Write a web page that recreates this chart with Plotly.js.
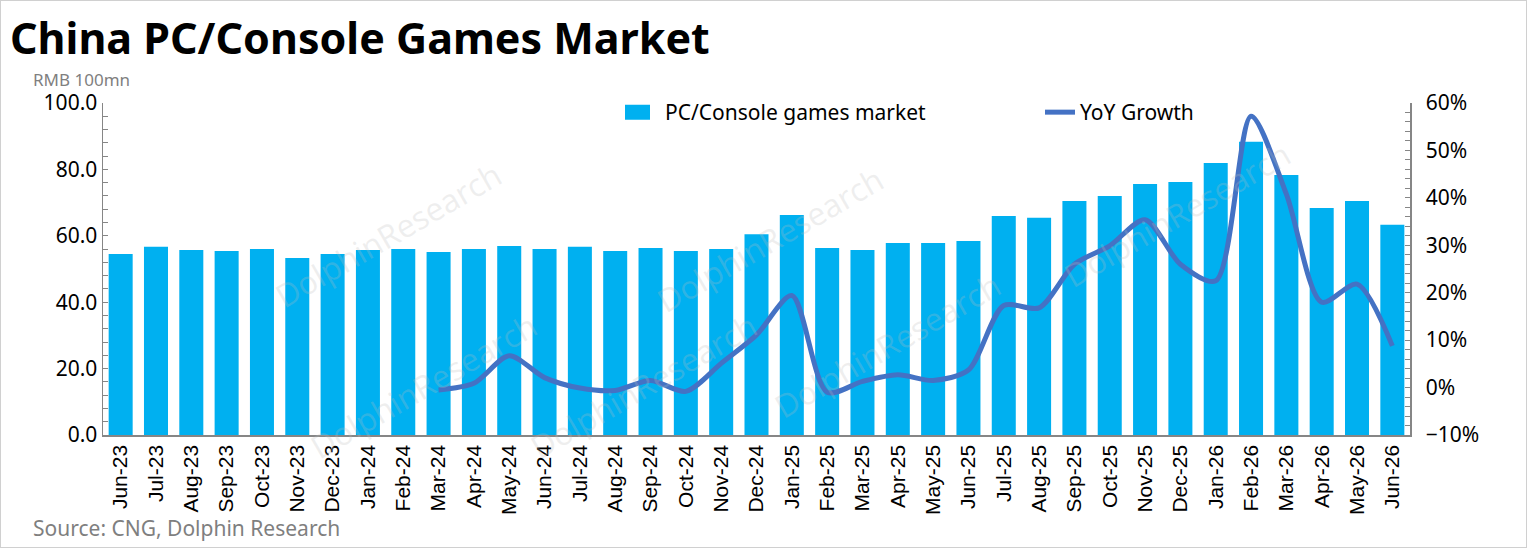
<!DOCTYPE html>
<html>
<head>
<meta charset="utf-8">
<script src="https://cdn.plot.ly/plotly-3.0.1.min.js"></script>
<style>
html,body{margin:0;padding:0;background:#fff;}
#chart{width:1527px;height:548px;box-sizing:border-box;border:1px solid #d0d0d0;}
</style>
</head>
<body>
<div id="chart"></div>
<script>
const months = ["Jun-23","Jul-23","Aug-23","Sep-23","Oct-23","Nov-23","Dec-23","Jan-24","Feb-24","Mar-24","Apr-24","May-24","Jun-24","Jul-24","Aug-24","Sep-24","Oct-24","Nov-24","Dec-24","Jan-25","Feb-25","Mar-25","Apr-25","May-25","Jun-25","Jul-25","Aug-25","Sep-25","Oct-25","Nov-25","Dec-25","Jan-26","Feb-26","Mar-26","Apr-26","May-26","Jun-26"];
const marketValues = [54.5,56.7,55.7,55.4,56.0,53.3,54.5,55.7,56.0,55.1,56.0,56.9,56.0,56.7,55.4,56.3,55.4,56.0,60.5,66.3,56.3,55.7,57.8,57.8,58.4,66.0,65.4,70.5,72.0,75.6,76.2,81.9,88.3,78.3,68.4,70.5,63.3];
const yoyGrowth = [null,null,null,null,null,null,null,null,null,-0.005,0.009,0.067,0.021,-0.001,-0.006,0.015,-0.008,0.051,0.111,0.194,-0.010,0.013,0.027,0.015,0.037,0.173,0.168,0.260,0.299,0.354,0.260,0.225,0.572,0.408,0.180,0.218,0.088];
const leftTicks = [0,20,40,60,80,100];
const leftTickText = ["0.0","20.0","40.0","60.0","80.0","100.0"];

const axisGrey = '#868686';
const tickFont = {family:'"Noto Sans", "Open Sans", sans-serif', size:21, color:'#000'};

const traces = [
  {type:'bar', x:months, y:marketValues, name:'PC/Console games market',
   marker:{color:'#00B0F0'}, legend:'legend'},
  {type:'scatter', mode:'lines', x:months, y:yoyGrowth, yaxis:'y2', name:'YoY Growth',
   line:{color:'#4472C4', width:5, shape:'spline', smoothing:0.8}, legend:'legend2', connectgaps:false}
];

const wm = [];
const wmPos = [[265,150],[770,155],[1300,130],[520,470],[1010,430],[300,470]];
wmPos.forEach(p=>wm.push({xref:'paper',yref:'paper',
  x:(p[0]-103)/1307, y:(435-p[1])/332, text:'DolphinResearch', showarrow:false,
  textangle:-30, font:{family:'"Open Sans", sans-serif', size:32, color:'rgba(190,190,190,0.25)'}}));

const legendFont = {family:'"Noto Sans", "Open Sans", sans-serif', size:21, color:'#000'};

const layout = {
  width:1525, height:546,
  margin:{l:102, r:116, t:102, b:112},
  paper_bgcolor:'#fff', plot_bgcolor:'rgba(0,0,0,0)',
  bargap:0.32,
  showlegend:true,
  xaxis:{type:'category', tickangle:-90, showline:true, linecolor:axisGrey, linewidth:1.5,
    ticks:'', tickfont:{family:'"Liberation Sans", Arial, sans-serif', size:21, color:'#000'},
    showgrid:false, zeroline:false, fixedrange:true},
  yaxis:{range:[0,100], tickvals:leftTicks, ticktext:leftTickText, showgrid:false, zeroline:false,
    showline:true, linecolor:axisGrey, linewidth:1.5, ticks:'inside', ticklen:5, tickcolor:axisGrey,
    minor:{dtick:4, ticks:'inside', ticklen:5, tickcolor:axisGrey},
    tickfont:tickFont, fixedrange:true},
  yaxis2:{range:[-0.1,0.6], overlaying:'y', side:'right', tickformat:'.0%', dtick:0.1, tick0:0,
    showgrid:false, zeroline:false, showline:true, linecolor:axisGrey, linewidth:1.5,
    ticks:'inside', ticklen:5, tickcolor:axisGrey, ticklabelstandoff:10,
    minor:{dtick:0.02, ticks:'inside', ticklen:5, tickcolor:axisGrey},
    tickfont:tickFont, fixedrange:true},
  legend:{orientation:'h', x:(625-103)/1307, y:(435-92)/332, xanchor:'left', yanchor:'top',
    bgcolor:'rgba(0,0,0,0)', font:legendFont, itemwidth:30},
  legend2:{orientation:'h', x:(1040-103)/1307, y:(435-92)/332, xanchor:'left', yanchor:'top',
    bgcolor:'rgba(0,0,0,0)', font:legendFont, itemwidth:30},
  annotations:[
    ...wm,
    {xref:'paper', yref:'paper', x:(8-103)/1307, y:(435-6)/332, xanchor:'left', yanchor:'top',
     text:'<b>China PC/Console Games Market</b>', showarrow:false,
     font:{family:'"Noto Sans", "Open Sans", sans-serif', size:43, color:'#000'}},
    {xref:'paper', yref:'paper', x:(31-103)/1307, y:(435-66)/332, xanchor:'left', yanchor:'top',
     text:'RMB 100mn', showarrow:false,
     font:{family:'"Noto Sans", "Open Sans", sans-serif', size:17, color:'#7f7f7f'}},
    {xref:'paper', yref:'paper', x:(31-103)/1307, y:(435-512)/332, xanchor:'left', yanchor:'top',
     text:'Source: CNG, Dolphin Research', showarrow:false,
     font:{family:'"Noto Sans", "Open Sans", sans-serif', size:21, color:'#7f7f7f'}}
  ]
};

Plotly.newPlot('chart', traces, layout, {displayModeBar:false, staticPlot:true}).then(gd => {
  // widen the bar legend swatch to a rectangle like the reference
  gd.querySelectorAll('.legend .legendpoints path').forEach(p => {
    p.setAttribute('d', 'M5,7.5H-30V-7.5H5Z');
  });
});
</script>
</body>
</html>
